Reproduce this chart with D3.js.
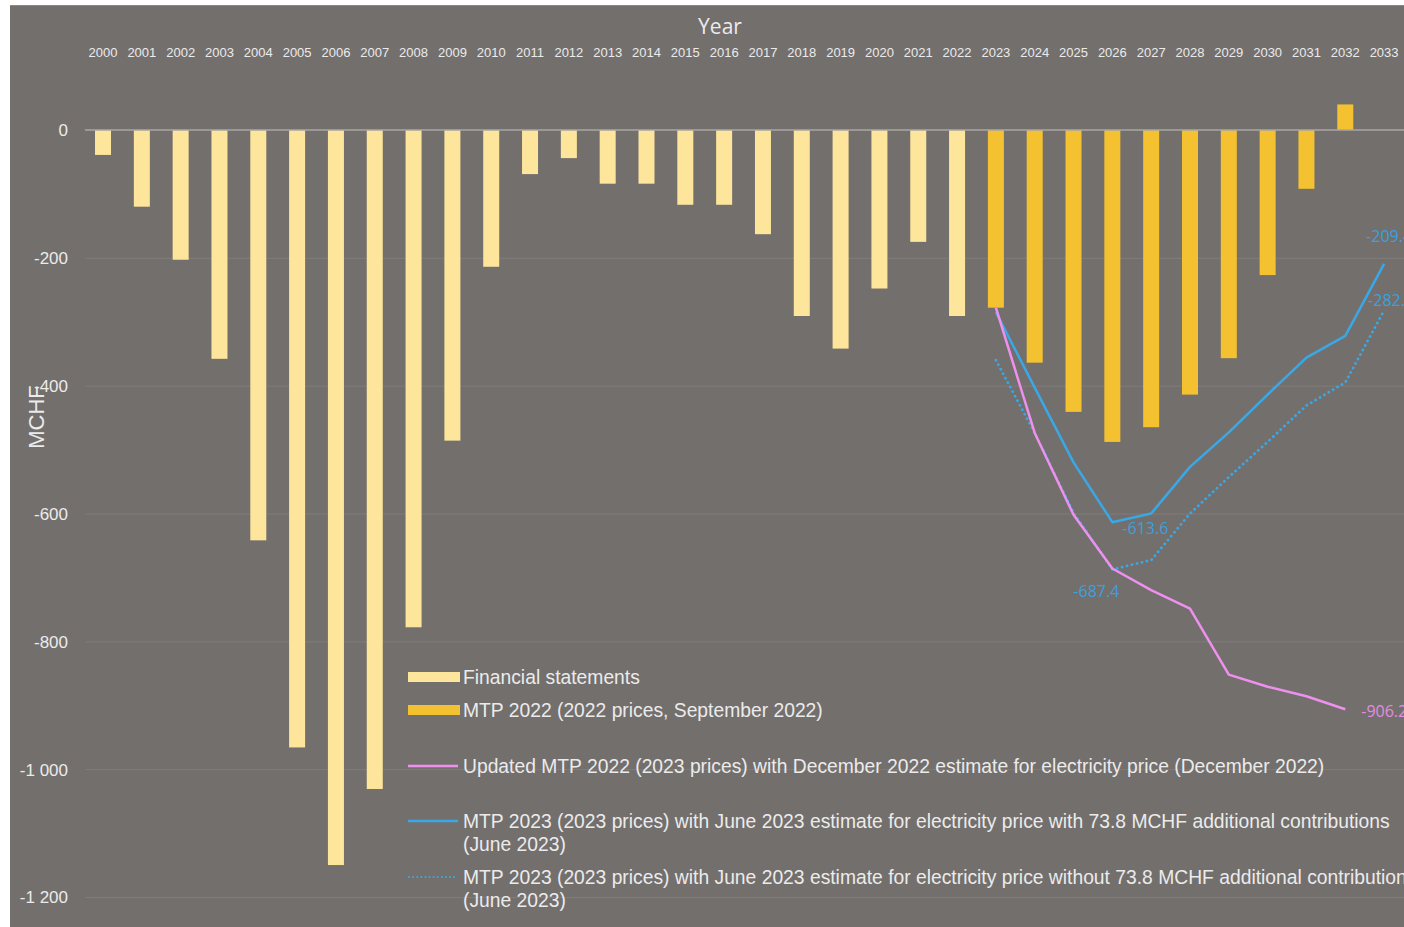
<!DOCTYPE html>
<html>
<head>
<meta charset="utf-8">
<script src="https://cdn.jsdelivr.net/npm/d3@7"></script>
<style>
  html, body { margin: 0; padding: 0; background: #ffffff; overflow: hidden; }
  svg { display: block; }
</style>
</head>
<body>
<svg id="chart" width="1404" height="927"></svg>
<script>
// Years shown on the top axis
const years = d3.range(2000, 2034);
const yTicks = [0, -200, -400, -600, -800, -1000, -1200];

// Financial statements, 2000–2022 (MCHF)
const finYears = d3.range(2000, 2023);
const finValues = [-39, -120, -203, -358, -642, -966, -1150, -1031, -778, -486, -214, -69, -44,
                   -84, -84, -117, -117, -163, -291, -342, -248, -175, -291];

// MTP 2022 (2022 prices, September 2022), 2023–2032
const mtp22Years = d3.range(2023, 2033);
const mtp22Values = [-278, -364, -441, -488, -465, -414, -357, -227, -92, 40];

// Updated MTP 2022 (2023 prices), December 2022 electricity estimate, 2023–2032
const updYears = d3.range(2023, 2033);
const updValues = [-278, -474, -602, -686, -720, -749, -852, -871, -886, -906.2];

// MTP 2023 with 73.8 MCHF additional contributions, 2023–2033
const withYears = d3.range(2023, 2034);
const withValues = [-285, -403, -520, -613.6, -600, -527, -473, -414, -356, -322, -209.4];

// MTP 2023 without 73.8 MCHF additional contributions, 2023–2033
const withoutYears = d3.range(2023, 2034);
const withoutValues = [-360, -474, -599, -687.4, -673, -600, -543, -488, -431, -395, -282.3];

const legendLabels = [
  "Financial statements",
  "MTP 2022 (2022 prices, September 2022)",
  "Updated MTP 2022 (2023 prices) with December 2022 estimate for electricity price (December 2022)",
  "MTP 2023 (2023 prices) with June 2023 estimate for electricity price with 73.8 MCHF additional contributions",
  "MTP 2023 (2023 prices) with June 2023 estimate for electricity price without 73.8 MCHF additional contributions"
];
const legendSub = "(June 2023)";

const C = {
  panel: "#736f6d",
  grid: "#807c7a",
  zero: "#aaa6a4",
  text: "#ebebeb",
  fin: "#fde69b",
  mtp22: "#f4c231",
  pink: "#ee90ee",
  blue: "#3aa8e6",
  pinkLabel: "#e48de0",
  blueLabel: "#3aa1dc"
};

const svg = d3.select("#chart");
const W = 1404, H = 927;

// panel background
svg.append("rect").attr("x", 10).attr("y", 5).attr("width", W - 10).attr("height", H - 5)
  .attr("fill", C.panel);
svg.append("line").attr("x1", 10).attr("x2", W).attr("y1", 5.5).attr("y2", 5.5)
  .attr("stroke", "#8c8886").attr("stroke-width", 1);

const x = d3.scaleBand().domain(years).range([83.6, 1403.5]).padding(0);
const cx = d => x(d) + x.bandwidth() / 2;
const barW = 16;

const y = d3.scaleLinear().domain([-1200, 0]).range([897, 130]);

const locale = d3.formatLocale({ decimal: ".", thousands: "\u00a0", grouping: [3], currency: ["", ""], minus: "-" });
const fmtTick = locale.format(",d");
const fmtLabel = locale.format(".1f");

// horizontal gridlines
svg.append("g").selectAll("line").data(yTicks.filter(d => d !== 0)).join("line")
  .attr("x1", 85).attr("x2", W)
  .attr("y1", d => y(d) + 0.5).attr("y2", d => y(d) + 0.5)
  .attr("stroke", C.grid).attr("stroke-width", 1);

// y-axis labels
const yAxis = d3.axisLeft(y).tickValues(yTicks).tickFormat(d => fmtTick(d)).tickSize(0).tickPadding(0);
const gy = svg.append("g").attr("transform", "translate(68,0)").call(yAxis);
gy.select(".domain").remove();
gy.selectAll("text").attr("fill", C.text).attr("font-family", "'Liberation Sans', Arial, sans-serif")
  .attr("font-size", 17).attr("dy", "0.35em");

// top year axis labels
const xAxis = d3.axisTop(x).tickSize(0).tickPadding(0);
const gx = svg.append("g").attr("transform", "translate(0,57)").call(xAxis);
gx.select(".domain").remove();
gx.selectAll("text").attr("fill", C.text).attr("font-family", "'Liberation Sans', Arial, sans-serif")
  .attr("font-size", 13);

svg.append("text").attr("x", 720).attr("y", 34).attr("text-anchor", "middle")
  .attr("fill", C.text).attr("font-family", "'Open Sans', sans-serif").attr("font-size", 21)
  .text("Year");

svg.append("text").attr("transform", "translate(44,417) rotate(-90)").attr("text-anchor", "middle")
  .attr("fill", C.text).attr("font-family", "'Liberation Sans', Arial, sans-serif").attr("font-size", 22)
  .text("MCHF");

// bars
function bars(yrs, vals, color) {
  svg.append("g").selectAll("rect").data(yrs.map((d, i) => [d, vals[i]])).join("rect")
    .attr("x", d => cx(d[0]) - barW / 2)
    .attr("width", barW)
    .attr("y", d => y(Math.max(0, d[1])))
    .attr("height", d => Math.abs(y(d[1]) - y(0)))
    .attr("fill", color);
}
bars(finYears, finValues, C.fin);
bars(mtp22Years, mtp22Values, C.mtp22);

// zero line
svg.append("line").attr("x1", 85).attr("x2", W).attr("y1", y(0)).attr("y2", y(0))
  .attr("stroke", C.zero).attr("stroke-width", 1.5);

// lines
const line = d3.line().x(d => cx(d[0])).y(d => y(d[1]));
function series(yrs, vals, color, dashed) {
  const p = svg.append("path").datum(yrs.map((d, i) => [d, vals[i]]))
    .attr("d", line).attr("fill", "none").attr("stroke", color)
    .attr("stroke-width", 2.5).attr("stroke-linejoin", "round");
  if (dashed) p.attr("stroke-dasharray", "0.1 5").attr("stroke-linecap", "round").attr("stroke-width", 2.8);
  return p;
}
series(withoutYears, withoutValues, C.blue, true);
series(withYears, withValues, C.blue, false);
series(updYears, updValues, C.pink, false);

// data labels
function dataLabel(yr, val, color, dx, dy) {
  svg.append("text").attr("x", cx(yr) + dx).attr("y", y(val) + dy)
    .attr("text-anchor", "start").attr("dy", "0.35em")
    .attr("fill", color).attr("font-family", "'Open Sans', sans-serif").attr("font-size", 16)
    .text(fmtLabel(val));
}
const last = a => a[a.length - 1];
dataLabel(last(withYears), last(withValues), C.blueLabel, -18, -27);
dataLabel(last(withoutYears), last(withoutValues), C.blueLabel, -16, -10);
dataLabel(2026, withValues[3], C.blueLabel, 10, 6);
dataLabel(2026, withoutValues[3], C.blueLabel, -39, 22);
dataLabel(last(updYears), last(updValues), C.pinkLabel, 16, 2);

// legend
const lg = svg.append("g").attr("font-family", "'Liberation Sans', Arial, sans-serif")
  .attr("font-size", 19.3).attr("fill", C.text);
const lx = 408, tx = 463;
const rows = [677, 710, 766, 821, 877];
lg.append("rect").attr("x", lx).attr("y", rows[0] - 5).attr("width", 52).attr("height", 10).attr("fill", C.fin);
lg.append("rect").attr("x", lx).attr("y", rows[1] - 5).attr("width", 52).attr("height", 10).attr("fill", C.mtp22);
lg.append("line").attr("x1", lx).attr("x2", lx + 50).attr("y1", rows[2]).attr("y2", rows[2])
  .attr("stroke", C.pink).attr("stroke-width", 2.5);
lg.append("line").attr("x1", lx).attr("x2", lx + 50).attr("y1", rows[3]).attr("y2", rows[3])
  .attr("stroke", C.blue).attr("stroke-width", 2.5);
lg.append("line").attr("x1", lx + 1).attr("x2", lx + 50).attr("y1", rows[4]).attr("y2", rows[4])
  .attr("stroke", C.blue).attr("stroke-width", 2).attr("stroke-dasharray", "0.1 4").attr("stroke-linecap", "round");
legendLabels.forEach((t, i) => {
  lg.append("text").attr("x", tx).attr("y", rows[i]).attr("dy", "0.35em").text(t);
});
lg.append("text").attr("x", tx).attr("y", rows[3] + 23).attr("dy", "0.35em").text(legendSub);
lg.append("text").attr("x", tx).attr("y", rows[4] + 23).attr("dy", "0.35em").text(legendSub);
</script>
</body>
</html>
